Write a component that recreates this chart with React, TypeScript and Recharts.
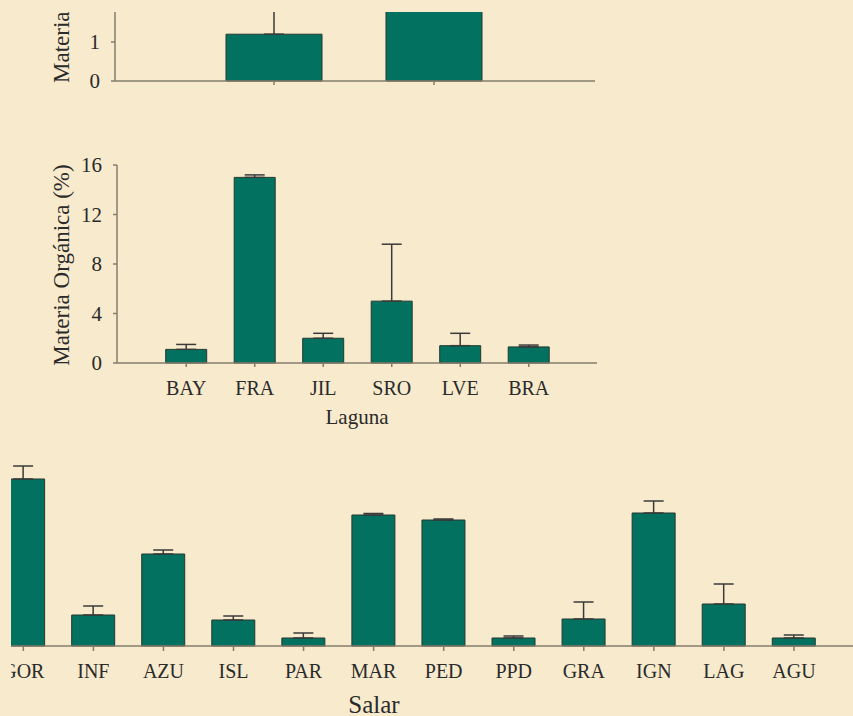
import React from 'react'
import { Bar, BarChart, ErrorBar, XAxis, YAxis } from 'recharts'

// upper panel (only its lower part is shown)
const topSites = ['S1', 'S2']
const topValues = [1.2, 2.6]
const topErrors = [1.0, 0.3]

// lagunas
const lagunas = ['BAY', 'FRA', 'JIL', 'SRO', 'LVE', 'BRA']
const moLaguna = [1.1, 15.0, 2.0, 5.0, 1.4, 1.3]
const errLaguna = [0.4, 0.2, 0.4, 4.6, 1.0, 0.15]

// salares
const salares = ['GOR', 'INF', 'AZU', 'ISL', 'PAR', 'MAR', 'PED', 'PPD', 'GRA', 'IGN', 'LAG', 'AGU']
const moSalar = [16.7, 3.1, 9.2, 2.6, 0.8, 13.1, 12.6, 0.8, 2.7, 13.3, 4.2, 0.8]
const errSalar = [1.3, 0.9, 0.4, 0.4, 0.5, 0.15, 0.1, 0.2, 1.7, 1.2, 2.0, 0.3]

const BG = '#f8eacd'
const BAR = '#02715f'
const BAR_EDGE = '#24392f'
const AXIS = '#857c6c'
const INK = '#2a2a2a'
const FONT = '"Liberation Serif", "Times New Roman", serif'

const build = (names: string[], vals: number[], errs: number[]) =>
    names.map((name, i) => ({ name, mo: vals[i], err: [0, errs[i]] }))

const topData = build(topSites, topValues, topErrors)
const lagunaData = build(lagunas, moLaguna, errLaguna)
const salarData = build(salares, moSalar, errSalar)

const tickStyle = { fill: INK, fontSize: 20, fontFamily: FONT }
const yLabel = 'Materia Orgánica (%)'

function Bars() {
    return (
        <Bar dataKey="mo" fill={BAR} stroke={BAR_EDGE} strokeWidth={1} isAnimationActive={false}>
            <ErrorBar dataKey="err" width={10} stroke="#3a3a3a" strokeWidth={1.5} isAnimationActive={false} />
        </Bar>
    )
}

function App() {
    return (
        <div style={{ position: 'fixed', left: 0, top: 0, width: 853, height: 716, background: BG, overflow: 'hidden' }}>
            {/* upper panel, clipped at the top */}
            <div style={{ position: 'absolute', left: 0, top: 12, width: 620, height: 100, overflow: 'hidden' }}>
                <div style={{ position: 'absolute', left: 0, top: -97 }}>
                    <BarChart width={620} height={196} data={topData} barCategoryGap="20%"
                        margin={{ top: 10, right: 25, bottom: 0, left: 58 }}>
                        <XAxis dataKey="name" interval={0} padding={{ left: 79, right: 81 }} height={30}
                            stroke={AXIS} strokeWidth={1.5} tickSize={4} tickFormatter={() => ''} />
                        <YAxis domain={[0, 4]} ticks={[0, 1]} width={57} stroke={AXIS} strokeWidth={1.5}
                            tickSize={4} tickMargin={11} tick={{ ...tickStyle, fontSize: 21 }} />
                        {Bars()}
                        <text x={69} y={168} transform="rotate(-90 69 168)" fill={INK}
                            fontSize={23} fontFamily={FONT}>Materia</text>
                    </BarChart>
                </div>
            </div>

            {/* lagunas */}
            <div style={{ position: 'absolute', left: 0, top: 0 }}>
                <BarChart width={620} height={440} data={lagunaData} barCategoryGap="20%"
                    margin={{ top: 165, right: 23, bottom: 37, left: 60 }}>
                    <XAxis dataKey="name" interval={0} padding={{ left: 35, right: 34 }} height={40}
                        stroke={AXIS} strokeWidth={1.5} tickSize={4} tickMargin={14} tick={tickStyle} />
                    <YAxis domain={[0, 16]} ticks={[0, 4, 8, 12, 16]} width={57} stroke={AXIS} strokeWidth={1.5}
                        tickSize={4} tickMargin={11} tick={{ ...tickStyle, fontSize: 21 }} />
                    {Bars()}
                    <text x={69} y={265} transform="rotate(-90 69 265)" textAnchor="middle" fill={INK}
                        fontSize={23} fontFamily={FONT}>{yLabel}</text>
                    <text x={357} y={424} textAnchor="middle" fill={INK} fontSize={21} fontFamily={FONT}>Laguna</text>
                </BarChart>
            </div>

            {/* salares, clipped at the left */}
            <div style={{ position: 'absolute', left: 11, top: 430, width: 842, height: 286, overflow: 'hidden' }}>
                <div style={{ position: 'absolute', left: -60, top: 5.5 }}>
                    <BarChart width={925} height={280} data={salarData} barCategoryGap="19%"
                        margin={{ top: 10, right: 5, bottom: 0, left: 37.3 }}>
                        <XAxis dataKey="name" interval={0} padding={{ left: 0, right: 42 }} height={70}
                            stroke={AXIS} strokeWidth={1.5} tickSize={5} tickMargin={13} tick={tickStyle} />
                        <YAxis hide domain={[0, 20]} />
                        {Bars()}
                        <text x={374 - 11 + 60} y={712 - 435.5} textAnchor="middle" fill={INK}
                            fontSize={25} fontFamily={FONT}>Salar</text>
                    </BarChart>
                </div>
            </div>
        </div>
    )
}

export default App
